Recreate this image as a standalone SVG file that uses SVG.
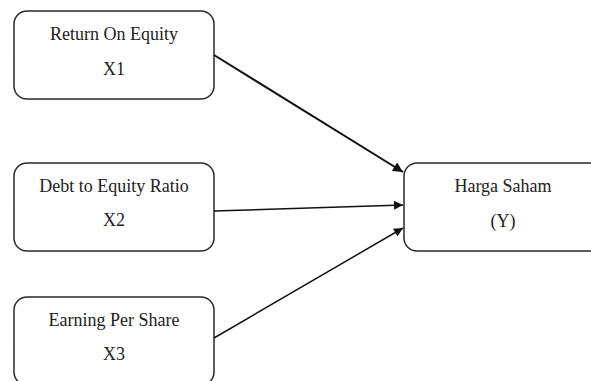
<svg xmlns="http://www.w3.org/2000/svg" width="591" height="381" viewBox="0 0 591 381">
<defs>
<style>
.box{fill:#fff;stroke:#2a2a2a;stroke-width:1.5}
.t{font-family:"Liberation Serif","Times New Roman",serif;font-size:18px;fill:#222;text-anchor:middle}
.c{stroke:#111;stroke-width:1.5;fill:none}
</style>
<marker id="ah" viewBox="0 0 10 10" refX="10" refY="5" markerWidth="10" markerHeight="9" markerUnits="userSpaceOnUse" orient="auto"><path d="M0,0 L10,5 L0,10 z" fill="#111"/></marker>
<marker id="ah2" viewBox="0 0 10 10" refX="10" refY="5" markerWidth="11" markerHeight="10" markerUnits="userSpaceOnUse" orient="auto"><path d="M0,0 L10,5 L0,10 z" fill="#111"/></marker>
</defs>
<rect width="591" height="381" fill="#fff"/>
<g id="n1"><rect class="box" x="14" y="11" width="200" height="88" rx="13"/><text class="t" x="114" y="40">Return On Equity</text><text class="t" x="114" y="75">X1</text></g>
<g id="n2"><rect class="box" x="14" y="163" width="200" height="88" rx="13"/><text class="t" x="114" y="192">Debt to Equity Ratio</text><text class="t" x="114" y="226">X2</text></g>
<g id="n3"><rect class="box" x="14" y="297" width="200" height="88" rx="13"/><text class="t" x="114" y="326">Earning Per Share</text><text class="t" x="114" y="360">X3</text></g>
<g id="ny"><rect class="box" x="404" y="163" width="210" height="88" rx="13"/><text class="t" x="503" y="192">Harga Saham</text><text class="t" x="503" y="227">(Y)</text></g>
<g id="connectors">
<line class="c" style="stroke-width:2" x1="214" y1="55" x2="403" y2="172" marker-end="url(#ah2)"/>
<line class="c" x1="214" y1="211" x2="403" y2="205" marker-end="url(#ah)"/>
<line class="c" x1="214" y1="338" x2="403" y2="228" marker-end="url(#ah)"/>
</g>
</svg>
